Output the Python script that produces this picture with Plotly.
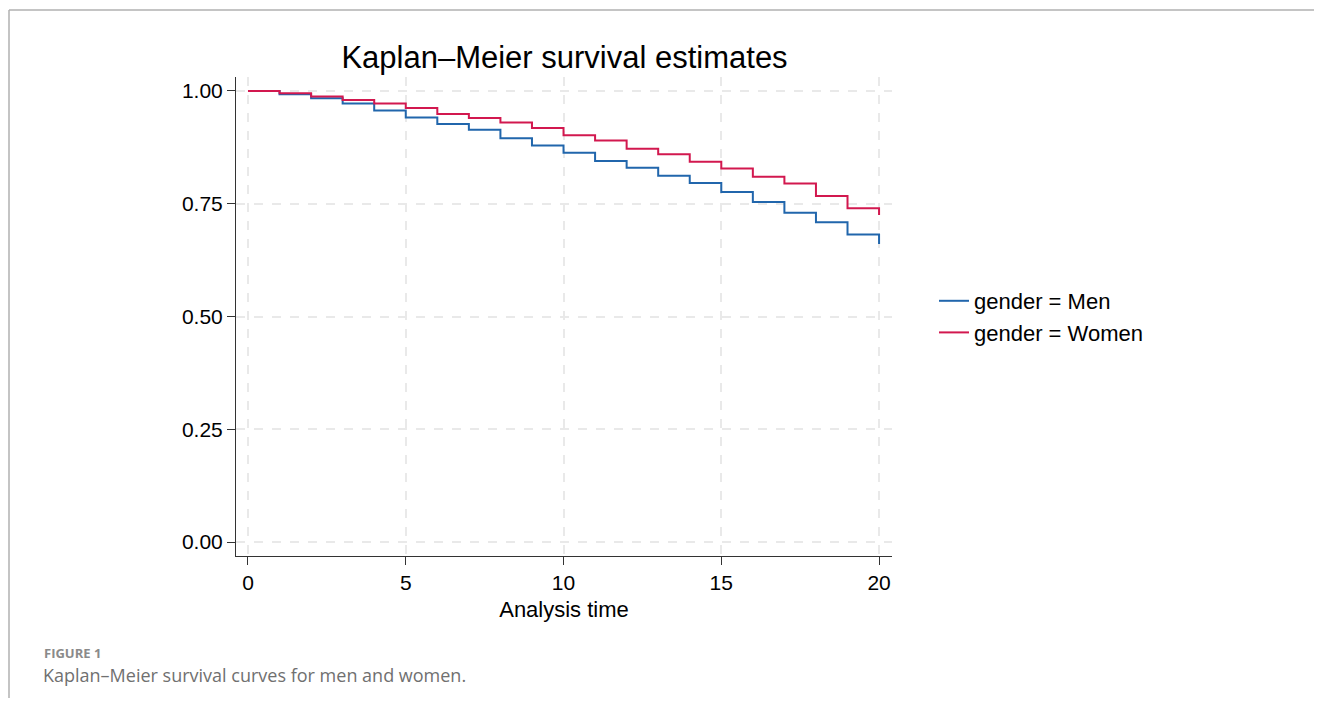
import plotly.graph_objects as go

# Data
times = list(range(0, 21))
men = [1.000, 0.993, 0.984, 0.972, 0.957, 0.941, 0.927, 0.914, 0.895, 0.879, 0.863,
       0.845, 0.830, 0.812, 0.796, 0.776, 0.754, 0.730, 0.709, 0.682, 0.661]
women = [1.000, 0.995, 0.988, 0.980, 0.972, 0.962, 0.949, 0.940, 0.930, 0.918, 0.902,
         0.890, 0.872, 0.860, 0.843, 0.828, 0.810, 0.795, 0.767, 0.740, 0.725]
x_ticks = [0, 5, 10, 15, 20]
y_ticks = [0.0, 0.25, 0.5, 0.75, 1.0]
y_tick_labels = ["0.00", "0.25", "0.50", "0.75", "1.00"]

# page body has an 8px margin; work in page coordinates and convert
OFF = 8
W, H = 1322 - 2 * OFF, 706 - 2 * OFF
PL, PR, PT, PB = 236, 892, 77, 556  # plot area in page pixels
L, T = PL - OFF, PT - OFF
R = W - (PR - OFF)
B = H - (PB - OFF)
pw, ph = W - L - R, H - T - B


def px(xp):
    return (xp - OFF - L) / pw


def py(yp):
    return (H - B - (yp - OFF)) / ph


FONT = "Liberation Sans, Arial"

fig = go.Figure()
fig.add_trace(go.Scatter(x=times, y=men, mode="lines", line=dict(color="#2166ac", width=2, shape="hv"),
                         name="gender = Men"))
fig.add_trace(go.Scatter(x=times, y=women, mode="lines", line=dict(color="#d2184f", width=2, shape="hv"),
                         name="gender = Women"))

axis_common = dict(showgrid=True, gridcolor="#e9e9e9", griddash="dash", gridwidth=1.5,
                   zeroline=False, showline=True, linecolor="#333333", linewidth=1,
                   ticks="outside", ticklen=8, tickcolor="#333333",
                   tickfont=dict(family=FONT, size=21, color="#000000"))

fig.update_layout(
    width=W, height=H,
    margin=dict(l=L, r=R, t=T, b=B),
    paper_bgcolor="white", plot_bgcolor="white",
    title=dict(text="Kaplan\u2013Meier survival estimates", x=px(564.5), xref="paper", xanchor="center",
               y=1 - (57 - OFF) / H, yref="container", yanchor="middle",
               font=dict(family=FONT, size=31, color="#000000")),
    xaxis=dict(range=[-0.38, 20.41], tickvals=x_ticks,
               title=dict(text="Analysis time", font=dict(family=FONT, size=22, color="#000000"),
                          standoff=8),
               **axis_common),
    yaxis=dict(range=[-0.031, 1.031], tickvals=y_ticks, ticktext=y_tick_labels, **axis_common),
    legend=dict(x=px(934), y=py(317), xanchor="left", yanchor="middle",
                font=dict(family=FONT, size=22, color="#000000"),
                bgcolor="rgba(0,0,0,0)", tracegroupgap=0),
    showlegend=True,
)

# Page frame lines
fig.add_shape(type="line", xref="paper", yref="paper", x0=px(9), x1=px(1322), y0=py(10), y1=py(10),
              line=dict(color="#b0b0b0", width=1.5))
fig.add_shape(type="line", xref="paper", yref="paper", x0=px(9), x1=px(9), y0=py(10), y1=py(706),
              line=dict(color="#b0b0b0", width=1.5))

# Caption
fig.add_annotation(text="<b>FIGURE 1</b>", xref="paper", yref="paper", x=px(42), y=py(653),
                   xanchor="left", yanchor="middle", showarrow=False,
                   font=dict(family="Open Sans, Lato", size=13, color="#8a8a8a"))
fig.add_annotation(text="Kaplan\u2013Meier survival curves for men and women.", xref="paper", yref="paper",
                   x=px(41), y=py(675), xanchor="left", yanchor="middle", showarrow=False,
                   font=dict(family="Open Sans, Lato", size=18, color="#707070"))

fig.write_html("out.html")
